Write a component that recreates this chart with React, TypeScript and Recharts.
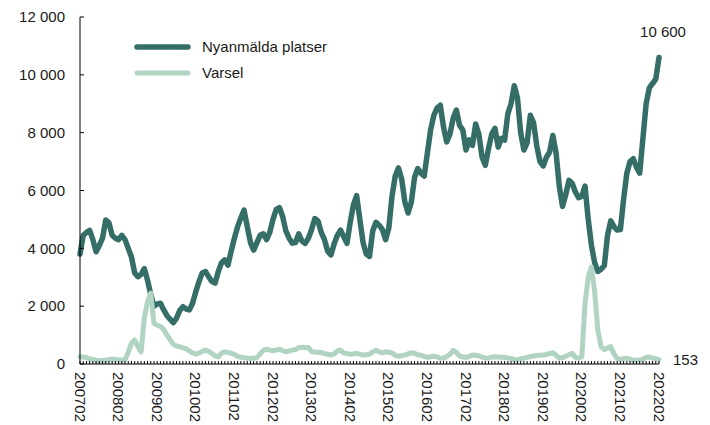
import React from 'react';
import { LineChart, Line, XAxis, YAxis, LabelList } from 'recharts';

const FONT = '"Liberation Sans", Arial, sans-serif';
const DARK = '#356d67';
const LIGHT = '#b1d3c1';
const TEXT = '#1a1a1a';

// Months 2007-02 .. 2022-02 (YYYYMM)
const periods: string[] = [];
for (let y = 2007; y <= 2022; y++) {
  for (let m = 1; m <= 12; m++) {
    if ((y === 2007 && m < 2) || (y === 2022 && m > 2)) continue;
    periods.push(`${y}${m < 10 ? '0' + m : m}`);
  }
}

const nyanmalda: number[] = [
  3800, 4450, 4550, 4620, 4300, 3880, 4100, 4350, 4980, 4880,
  4450, 4350, 4300, 4450, 4300, 4000, 3700, 3150, 3020, 3100,
  3300, 2900, 2400, 2000, 2080, 2100, 1880, 1680, 1550, 1430,
  1580, 1850, 1980, 1900, 1870, 2100, 2500, 2850, 3150, 3200,
  3020, 2850, 2800, 3200, 3500, 3600, 3420, 3900, 4350, 4750,
  5050, 5320, 4750, 4200, 3940, 4200, 4450, 4500, 4300, 4550,
  5000, 5350, 5410, 5100, 4600, 4350, 4180, 4200, 4500, 4250,
  4170, 4350, 4650, 5030, 4950, 4550, 4300, 3900, 3770, 4150,
  4450, 4630, 4400, 4170, 4900, 5500, 5820, 5000, 4200, 3800,
  3720, 4600, 4900, 4800, 4650, 4300, 4700, 5800, 6500, 6780,
  6400, 5600, 5220, 5600, 6450, 6760, 6600, 6500, 7300, 8100,
  8600, 8850, 8950, 8200, 7680, 7950, 8500, 8780, 8250, 8100,
  7400, 7750, 7560, 8300, 7950, 7150, 6870, 7450, 7950, 8150,
  7500, 7800, 7740, 8650, 9000, 9620, 9200, 8000, 7400, 7650,
  8600, 8350, 7550, 7000, 6850, 7150, 7330, 7900, 7300, 6150,
  5450, 5850, 6350, 6250, 5950, 5750, 5800, 6150, 5000, 4100,
  3500, 3200, 3280, 3400, 4450, 4950, 4750, 4630, 4650, 5700,
  6600, 7000, 7100, 6800, 6600, 7800, 9000, 9550, 9700, 9850,
  10600,
];

const varsel: number[] = [
  250, 240, 220, 180, 160, 130, 120, 115, 130, 160,
  175, 160, 140, 140, 150, 400, 720, 830, 600, 420,
  1600, 2150, 2450, 1400, 1350, 1300, 1200, 1000, 850, 680,
  620, 600, 560, 530, 450, 380, 340, 380, 430, 480,
  440, 360, 280, 250, 380, 420, 400, 370, 330, 260,
  230, 220, 200, 190, 195, 220, 350, 470, 510, 480,
  460, 480, 510, 470, 420, 450, 480, 500, 570, 580,
  560, 570, 430, 410, 410, 400, 360, 340, 310, 350,
  450, 480, 380, 360, 340, 350, 370, 340, 310, 320,
  340, 420, 480, 420, 390, 420, 410, 380, 300, 270,
  290, 310, 350, 390, 370, 320, 300, 260, 230, 250,
  270, 250, 200, 200, 260, 330, 470, 400, 280, 240,
  230, 260, 310, 300, 280, 240, 200, 210, 240, 250,
  240, 230, 230, 210, 195, 150, 150, 180, 200, 230,
  260, 280, 290, 300, 310, 330, 360, 390, 300, 200,
  220, 270, 320, 370, 230, 200, 250, 2100, 3000, 3350,
  2500, 1150, 600, 500, 550, 600, 350, 180, 160, 180,
  200, 170, 130, 130, 150, 160, 230, 240, 200, 190,
  153,
];

const yTicks: number[] = [0, 2000, 4000, 6000, 8000, 10000, 12000];
const seriesNames = ['Nyanmälda platser', 'Varsel'];

const data = periods.map((p, i) => ({ period: p, nyanmalda: nyanmalda[i], varsel: varsel[i] }));
const LAST = data.length - 1;

const fmt = (v: number) => String(v).replace(/\B(?=(\d{3})+(?!\d))/g, ' ');

const YTick = (props: any) => {
  const { x, y, payload } = props;
  return (
    <g>
      <line x1={x} y1={y} x2={x + 4} y2={y} stroke="#000" strokeWidth={1} />
      <text x={x - 15} y={y} dy="0.35em" textAnchor="end" fill={TEXT} fontSize={15} fontFamily={FONT}>
        {fmt(payload.value)}
      </text>
    </g>
  );
};

const XTick = (props: any) => {
  const { x, y, payload } = props;
  const show = String(payload.value).endsWith('02');
  return (
    <g>
      <line x1={x} y1={y} x2={x} y2={y - 3} stroke="#000" strokeWidth={1} />
      {show && (
        <text
          x={x}
          y={y + 8}
          transform={`rotate(90 ${x} ${y + 8})`}
          textAnchor="start"
          dominantBaseline="central"
          fill={TEXT}
          fontSize={15}
          fontFamily={FONT}
        >
          {payload.value}
        </text>
      )}
    </g>
  );
};

const darkEndLabel = (props: any) => {
  const { x, y, value, index } = props;
  if (index !== LAST) return null;
  return (
    <text x={x + 4} y={y - 20} textAnchor="middle" fill={TEXT} fontSize={15} fontFamily={FONT}>
      {fmt(value)}
    </text>
  );
};

const lightEndLabel = (props: any) => {
  const { x, y, value, index } = props;
  if (index !== LAST) return null;
  return (
    <text x={x + 14} y={y} dy="0.35em" textAnchor="start" fill={TEXT} fontSize={15} fontFamily={FONT}>
      {fmt(value)}
    </text>
  );
};

export default function App() {
  return (
    <div style={{ position: 'absolute', left: 0, top: 0, width: 710, height: 425, background: '#fff', fontFamily: FONT }}>
      <LineChart width={710} height={425} data={data} margin={{ top: 17, right: 51, bottom: 1, left: 10 }}>
        <XAxis
          dataKey="period"
          interval={0}
          tickLine={false}
          tickSize={0}
          tickMargin={0}
          height={60}
          axisLine={{ stroke: '#000', strokeWidth: 1 }}
          tick={<XTick />}
        />
        <YAxis
          domain={[0, 12000]}
          ticks={yTicks}
          interval={0}
          width={70}
          tickLine={false}
          tickSize={0}
          tickMargin={0}
          axisLine={{ stroke: '#000', strokeWidth: 1 }}
          tick={<YTick />}
        />
        <Line
          type="linear"
          dataKey="nyanmalda"
          name={seriesNames[0]}
          stroke={DARK}
          strokeWidth={5.5}
          strokeLinejoin="round"
          strokeLinecap="round"
          dot={false}
          activeDot={false}
          isAnimationActive={false}
        >
          <LabelList dataKey="nyanmalda" content={darkEndLabel} />
        </Line>
        <Line
          type="linear"
          dataKey="varsel"
          name={seriesNames[1]}
          stroke={LIGHT}
          strokeWidth={5}
          strokeLinejoin="round"
          strokeLinecap="round"
          dot={false}
          activeDot={false}
          isAnimationActive={false}
        >
          <LabelList dataKey="varsel" content={lightEndLabel} />
        </Line>
      </LineChart>
      <svg style={{ position: 'absolute', left: 0, top: 0 }} width={710} height={100}>
        <line x1={137} y1={47} x2={188} y2={47} stroke={DARK} strokeWidth={5.5} strokeLinecap="round" />
        <text x={202} y={47} dy="0.35em" fill={TEXT} fontSize={15} fontFamily={FONT}>{seriesNames[0]}</text>
        <line x1={137} y1={73} x2={188} y2={73} stroke={LIGHT} strokeWidth={5} strokeLinecap="round" />
        <text x={202} y={73} dy="0.35em" fill={TEXT} fontSize={15} fontFamily={FONT}>{seriesNames[1]}</text>
      </svg>
    </div>
  );
}
